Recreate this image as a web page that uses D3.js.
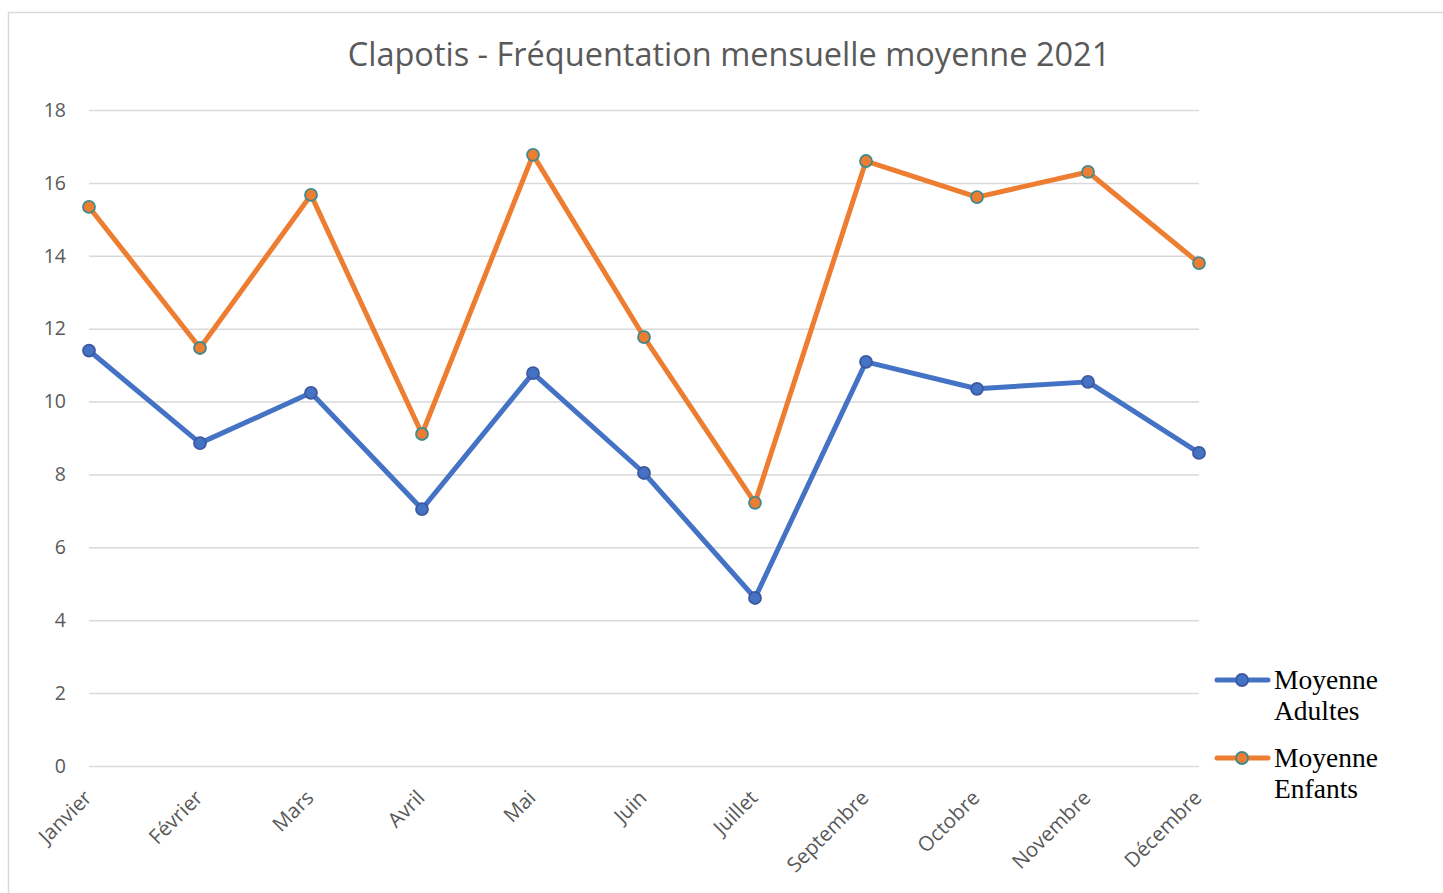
<!DOCTYPE html>
<html lang="fr">
<head>
<meta charset="UTF-8" />
<title>Clapotis - Fréquentation mensuelle moyenne 2021</title>
<script src="https://d3js.org/d3.v7.min.js"></script>
<style>
  body { margin: 0; background: #fff; }
  svg { display: block; }
  .tick-label { font-family: 'Open Sans', sans-serif; font-size: 19.5px; fill: #595959; }
  .x-label { font-size: 20.5px; }
  .title { font-family: 'Open Sans', sans-serif; font-size: 32.5px; fill: #595959; }
  .legend-text { font-family: 'Liberation Serif', serif; font-size: 27.5px; fill: #000; }
  .grid line { stroke: #d9d9d9; stroke-width: 1.5; }
</style>
</head>
<body>
<svg id="chart" width="1443" height="893"></svg>
<script>
// data
const months = ['Janvier', 'Février', 'Mars', 'Avril', 'Mai', 'Juin', 'Juillet',
                'Septembre', 'Octobre', 'Novembre', 'Décembre'];
const adultes = [11.4, 8.86, 10.24, 7.05, 10.78, 8.04, 4.61, 11.09, 10.35, 10.54, 8.59];
const enfants = [15.34, 11.47, 15.67, 9.11, 16.77, 11.77, 7.22, 16.6, 15.61, 16.3, 13.8];
const yTicks = [0, 2, 4, 6, 8, 10, 12, 14, 16, 18];

const series = [
  { name: ['Moyenne', 'Adultes'], values: adultes, color: '#4472C4', marker: '#4472C4', edge: '#3E58A0' },
  { name: ['Moyenne', 'Enfants'], values: enfants, color: '#ED7D31', marker: '#ED7D31', edge: '#3F8A8E' }
];

const svg = d3.select('#chart');

// chart frame
svg.append('rect')
  .attr('x', 8.5).attr('y', 12.5)
  .attr('width', 1450).attr('height', 900)
  .attr('fill', 'none')
  .attr('stroke', '#d9d9d9')
  .attr('stroke-width', 1.5);

const plotLeft = 89, plotRight = 1199, plotTop = 110, plotBottom = 766;

const x = d3.scalePoint()
  .domain(months)
  .range([plotLeft, plotRight]);

const y = d3.scaleLinear()
  .domain([0, 18])
  .range([plotBottom, plotTop]);

// horizontal grid
svg.append('g')
  .attr('class', 'grid')
  .attr('transform', `translate(${plotLeft},0)`)
  .call(d3.axisLeft(y).tickValues(yTicks).tickSize(-(plotRight - plotLeft)).tickFormat(''))
  .call(g => g.select('.domain').remove());

// y labels
svg.append('g')
  .selectAll('text')
  .data(yTicks)
  .enter()
  .append('text')
  .attr('class', 'tick-label')
  .attr('x', 66)
  .attr('y', d => y(d))
  .attr('dy', '0.35em')
  .attr('text-anchor', 'end')
  .text(d => d);

// x labels, rotated
svg.append('g')
  .selectAll('text')
  .data(months)
  .enter()
  .append('text')
  .attr('class', 'tick-label x-label')
  .attr('text-anchor', 'end')
  .attr('transform', d => `translate(${x(d) + 4},${plotBottom + 33}) rotate(-45)`)
  .text(d => d);

const line = d3.line()
  .x((d, i) => x(months[i]))
  .y(d => y(d));

series.forEach(s => {
  svg.append('path')
    .datum(s.values)
    .attr('fill', 'none')
    .attr('stroke', s.color)
    .attr('stroke-width', 5)
    .attr('stroke-linejoin', 'round')
    .attr('stroke-linecap', 'round')
    .attr('d', line);

  svg.append('g')
    .selectAll('circle')
    .data(s.values)
    .enter()
    .append('circle')
    .attr('cx', (d, i) => x(months[i]))
    .attr('cy', d => y(d))
    .attr('r', 6)
    .attr('fill', s.marker)
    .attr('stroke', s.edge)
    .attr('stroke-width', 1.8);
});

// title
svg.append('text')
  .attr('class', 'title')
  .attr('x', 729)
  .attr('y', 66)
  .attr('text-anchor', 'middle')
  .text('Clapotis - Fréquentation mensuelle moyenne 2021');

// legend
const legend = svg.append('g');
series.forEach((s, i) => {
  const ly = 680 + i * 78;
  legend.append('line')
    .attr('x1', 1217).attr('x2', 1268)
    .attr('y1', ly).attr('y2', ly)
    .attr('stroke', s.color)
    .attr('stroke-width', 5)
    .attr('stroke-linecap', 'round');
  legend.append('circle')
    .attr('cx', 1242).attr('cy', ly)
    .attr('r', 6)
    .attr('fill', s.marker)
    .attr('stroke', s.edge)
    .attr('stroke-width', 1.8);
  s.name.forEach((t, j) => {
    legend.append('text')
      .attr('class', 'legend-text')
      .attr('x', 1274)
      .attr('y', ly + 9 + j * 31)
      .text(t);
  });
});
</script>
</body>
</html>
